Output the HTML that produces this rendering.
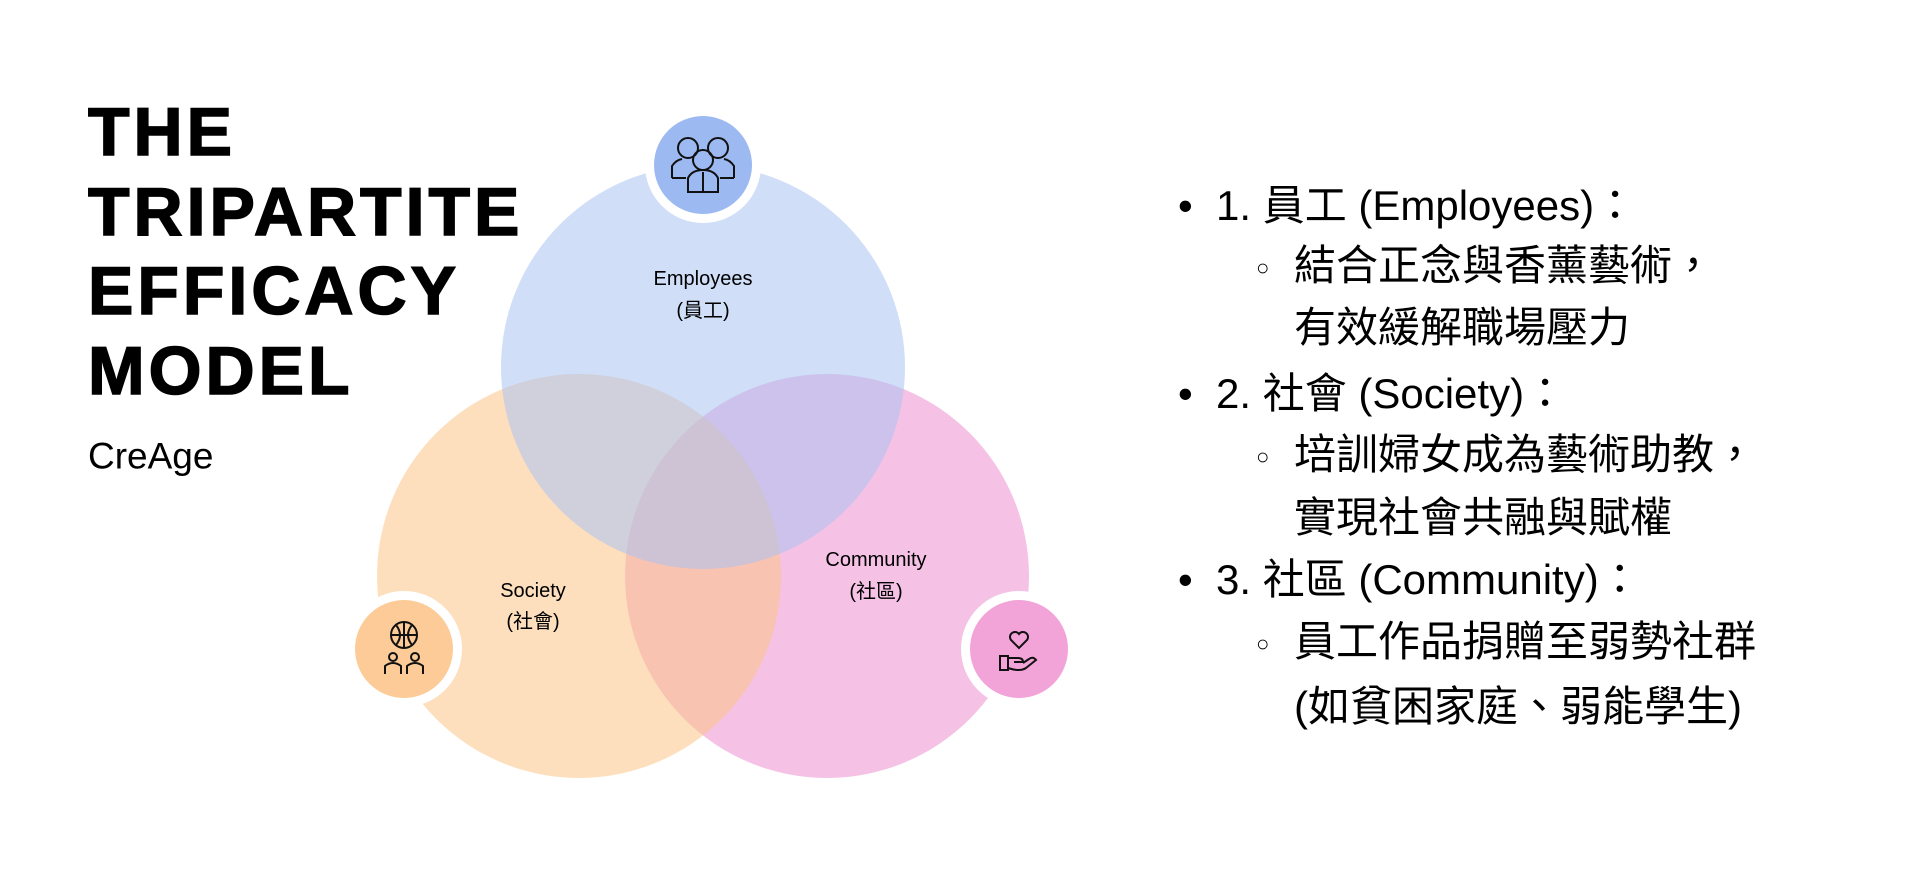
<!DOCTYPE html>
<html><head><meta charset="utf-8"><style>
body{margin:0;width:1920px;height:886px;background:#fff;overflow:hidden;position:relative;font-family:"Liberation Sans","Noto Sans CJK TC",sans-serif;color:#000}
.t{position:absolute;left:88px;font-weight:bold;font-size:68px;letter-spacing:4px;line-height:1;white-space:nowrap;-webkit-text-stroke:1.5px #000}
.l{position:absolute;white-space:nowrap;line-height:1;transform:translateY(-50%)}
.c{position:absolute;font-size:20px;text-align:center;width:200px;line-height:1;transform:translate(-50%,-50%)}
.r{font-size:42px}
.s{font-size:22px}
</style></head><body>
<div class="t" style="top:98px">THE</div>
<div class="t" style="top:178px">TRIPARTITE</div>
<div class="t" style="top:257px">EFFICACY</div>
<div class="t" style="top:337px">MODEL</div>
<div class="l" style="left:88px;top:456px;font-size:37px">CreAge</div>
<svg width="1920" height="886" style="position:absolute;left:0;top:0">
<circle cx="827" cy="576" r="202" fill="#ee9ad3" fill-opacity="0.6"/>
<circle cx="579" cy="576" r="202" fill="#fbc489" fill-opacity="0.55"/>
<circle cx="703" cy="367" r="202" fill="#a9c3f3" fill-opacity="0.55"/>
<circle cx="703" cy="165" r="58" fill="#fff"/><circle cx="703" cy="165" r="49" fill="#9db9f1"/>
<circle cx="404" cy="649" r="58" fill="#fff"/><circle cx="404" cy="649" r="49" fill="#fccb97"/>
<circle cx="1019" cy="649" r="58" fill="#fff"/><circle cx="1019" cy="649" r="49" fill="#f2a3d8"/>
<g fill="none" stroke="#111" stroke-width="2">
<circle cx="688" cy="148" r="10"/><circle cx="718" cy="148" r="10"/><circle cx="703" cy="160" r="10"/>
<path d="M672 178 l0 -12 q4 -6 10 -7 M734 178 l0 -12 q-4 -6 -10 -7 M672 178 h14 M720 178 h14 M688 192 v-14 q4 -8 15 -8 q11 0 15 8 v14 z M703 172 v20"/>
<circle cx="404" cy="635" r="13"/><path d="M391 635 h26 M404 622 v26 M396 625 q8 10 0 20 M412 625 q-8 10 0 20"/>
<circle cx="393" cy="657" r="4"/><circle cx="415" cy="657" r="4"/><path d="M385 674 v-8 q8 -6 16 0 v8 M407 674 v-8 q8 -6 16 0 v8"/>
<path d="M1019 648 l-8 -8 a5 5 0 0 1 8 -6 a5 5 0 0 1 8 6 z"/>
<path d="M1000 656 h8 v14 h-8 z M1008 658 h10 q5 0 5 4 h-9 M1008 668 q12 4 18 0 l10 -8 q-3 -4 -7 -1 l-6 4"/>
</g>
</svg>
<div class="c" style="left:703px;top:279px">Employees</div>
<div class="c" style="left:703px;top:311px">(員工)</div>
<div class="c" style="left:533px;top:591px">Society</div>
<div class="c" style="left:533px;top:622px">(社會)</div>
<div class="c" style="left:876px;top:560px">Community</div>
<div class="c" style="left:876px;top:592px">(社區)</div>

<div class="l r" style="left:1178px;top:206px">•</div>
<div class="l r" style="left:1216px;top:206px">1. 員工 (Employees)：</div>
<div class="l s" style="left:1256px;top:268px">○</div>
<div class="l r" style="left:1294px;top:266px">結合正念與香薰藝術，</div>
<div class="l r" style="left:1294px;top:328px">有效緩解職場壓力</div>
<div class="l r" style="left:1178px;top:394px">•</div>
<div class="l r" style="left:1216px;top:394px">2. 社會 (Society)：</div>
<div class="l s" style="left:1256px;top:457px">○</div>
<div class="l r" style="left:1294px;top:455px">培訓婦女成為藝術助教，</div>
<div class="l r" style="left:1294px;top:518px">實現社會共融與賦權</div>
<div class="l r" style="left:1178px;top:580px">•</div>
<div class="l r" style="left:1216px;top:580px">3. 社區 (Community)：</div>
<div class="l s" style="left:1256px;top:644px">○</div>
<div class="l r" style="left:1294px;top:642px">員工作品捐贈至弱勢社群</div>
<div class="l r" style="left:1294px;top:707px">(如貧困家庭、弱能學生)</div>
</body></html>
